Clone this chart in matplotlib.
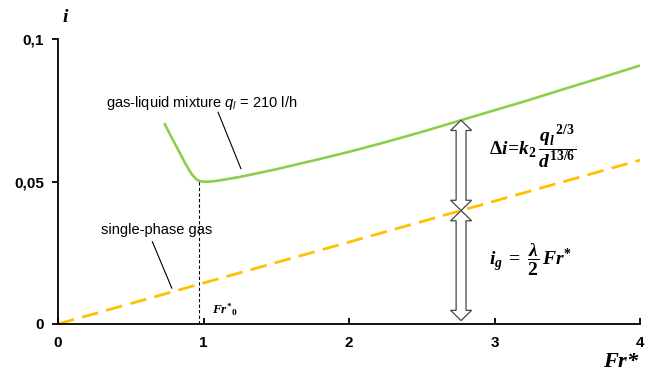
import numpy as np
import matplotlib
matplotlib.use("Agg")
import matplotlib.pyplot as plt
from matplotlib.patches import Polygon

plt.rcParams['font.family'] = ['Liberation Sans', 'DejaVu Sans']
plt.rcParams['mathtext.fontset'] = 'custom'
plt.rcParams['mathtext.rm'] = 'Liberation Serif:bold'
plt.rcParams['mathtext.it'] = 'Liberation Serif:italic:bold'
plt.rcParams['mathtext.bf'] = 'Liberation Serif:bold'
plt.rcParams['mathtext.sf'] = 'Liberation Sans:italic'

# gas-liquid mixture, q_l = 210 l/h
fr_mix = [0.73, 0.78, 0.83, 0.87, 0.9, 0.925, 0.95, 0.97, 1.0, 1.05, 1.1, 1.25,
          1.5, 1.75, 2.0, 2.25, 2.5, 2.75, 3.0, 3.25, 3.5, 3.75, 4.0]
i_mix = [0.0705, 0.0655, 0.0607, 0.0568, 0.0541, 0.0522, 0.0508, 0.0502, 0.0499,
         0.05, 0.0503, 0.0516, 0.0543, 0.0573, 0.0604, 0.0638, 0.0674, 0.0712,
         0.075, 0.0788, 0.0828, 0.0867, 0.0907]

# single-phase gas
fr_gas = [0.0, 4.0]
i_gas = [0.0, 0.0575]

fr0 = 0.97
i_min = 0.0501
fr_arrow = 2.77
i_top = float(np.interp(fr_arrow, fr_mix, i_mix))
i_mid = float(np.interp(fr_arrow, fr_gas, i_gas))

xticks = [0, 1, 2, 3, 4]
yticks = [0, 0.05, 0.1]
ylabels = ['0', '0,05', '0,1']

fig = plt.figure(figsize=(6.46, 3.74), dpi=100)
ax = fig.add_axes([0.0898, 0.1337, 0.901, 0.762])

ax.plot(fr_mix, i_mix, color='#8CCF4D', lw=1.9, solid_capstyle='butt',
        solid_joinstyle='round')
ax.plot(fr_gas, i_gas, color='#FFC000', lw=2, dashes=(6, 3))
ax.plot([fr0, fr0], [0, i_min], color='black', lw=0.8, ls=(0, (3, 2)))

ax.set_xlim(0, 4)
ax.set_ylim(0, 0.1)
ax.set_xticks(xticks)
ax.set_yticks(yticks)
ax.set_yticklabels(ylabels)
ax.spines['top'].set_visible(False)
ax.spines['right'].set_visible(False)
for s in ['left', 'bottom']:
    ax.spines[s].set_linewidth(1.3)
ax.tick_params(axis='x', direction='in', length=4, width=1.3, pad=9)
ax.tick_params(axis='y', direction='out', length=4, width=1.3, pad=6)
for lab in ax.get_xticklabels() + ax.get_yticklabels():
    lab.set_fontweight('bold')
    lab.set_fontsize(11)


def darrow(x, y0, y1):
    # hollow double arrow, widths in data units of x, head length in y
    hw, sw, hl = 0.072, 0.034, 0.0036
    pts = [(x, y1), (x + hw, y1 - hl), (x + sw, y1 - hl), (x + sw, y0 + hl),
           (x + hw, y0 + hl), (x, y0), (x - hw, y0 + hl), (x - sw, y0 + hl),
           (x - sw, y1 - hl), (x - hw, y1 - hl)]
    ax.add_patch(Polygon(pts, closed=True, facecolor='white', edgecolor='#444444',
                         lw=0.9, zorder=5, clip_on=False))


darrow(fr_arrow, i_mid, i_top)
darrow(fr_arrow, 0.0012, i_mid)

ax.text(0.33, 0.0775, r'gas-liquid mixture $\mathsf{q_{l}}$ = 210 l/h',
        fontsize=10.5, va='center')
ax.plot([1.10, 1.257], [0.0743, 0.0545], color='black', lw=0.8)
ax.text(0.295, 0.0330, 'single-phase gas', fontsize=10.5, va='center')
ax.plot([0.648, 0.782], [0.0289, 0.0126], color='black', lw=0.8)

ax.text(1.06, 0.0035, r'$Fr^{*}{}_{0}$', fontsize=9.5)
ax.text(2.96, 0.0625, r'$\Delta i\!=\!k_{2}\,\dfrac{q_{l}^{\;\;2/3}}{d^{13/6}}$',
        fontsize=14, va='center')
ax.text(2.96, 0.0225, r'$i_{g}\;=\;\dfrac{\lambda}{2}\,Fr^{*}$', fontsize=14,
        va='center')

fig.text(0.096, 0.952, r'$i$', fontsize=14, ha='left', va='center')
fig.text(0.99, 0.032, r'$Fr$*', fontsize=16, ha='right', va='center',
         family='Liberation Serif', style='italic', weight='bold')

fig.savefig('out.png', dpi=100)
